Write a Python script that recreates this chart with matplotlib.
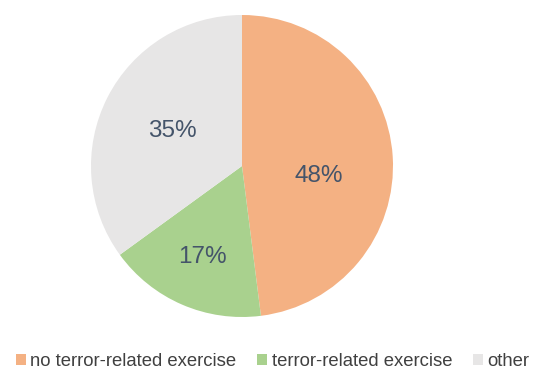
import numpy as np
import matplotlib
matplotlib.use("Agg")
import matplotlib.pyplot as plt

plt.rcParams['font.family'] = ['Liberation Sans', 'DejaVu Sans']

categories = ["no terror-related exercise", "terror-related exercise", "other"]
shares = [48, 17, 35]
colors = ["#F4B183", "#A9D18E", "#E7E6E6"]
text_color = "#44546A"

# label placement per wedge: radial distance and angular nudge (degrees)
label_dist = [0.515, 0.66, 0.515]
label_nudge = [-11, 0, 0]

fig = plt.figure(figsize=(5.39, 3.69), dpi=100)
W, H = 539, 369
cx, cy, r = 242, 166, 151
ax = fig.add_axes([(cx - r) / W, 1 - (cy + r) / H, 2 * r / W, 2 * r / H])

wedges, _ = ax.pie(shares, colors=colors, startangle=90, counterclock=False,
                   radius=1.0, wedgeprops=dict(linewidth=0))
ax.set_xlim(-1, 1)
ax.set_ylim(-1, 1)
ax.set_aspect('equal')
ax.axis('off')

for w, v, d, n in zip(wedges, shares, label_dist, label_nudge):
    mid = np.deg2rad((w.theta1 + w.theta2) / 2 + n)
    ax.text(d * np.cos(mid), d * np.sin(mid), f"{v}%", ha='center', va='center',
            fontsize=17.5, color=text_color)

leg = fig.legend(wedges, categories, loc='center',
                 bbox_to_anchor=(0.5 + 3 / W, 1 - 361.5 / H),
                 ncol=3, frameon=False, fontsize=13.3, handlelength=0.55,
                 handleheight=0.55, handletextpad=0.25, columnspacing=1.1,
                 borderaxespad=0, borderpad=0)
for t in leg.get_texts():
    t.set_color("#404040")

fig.savefig("out.png", dpi=100, facecolor="white")
